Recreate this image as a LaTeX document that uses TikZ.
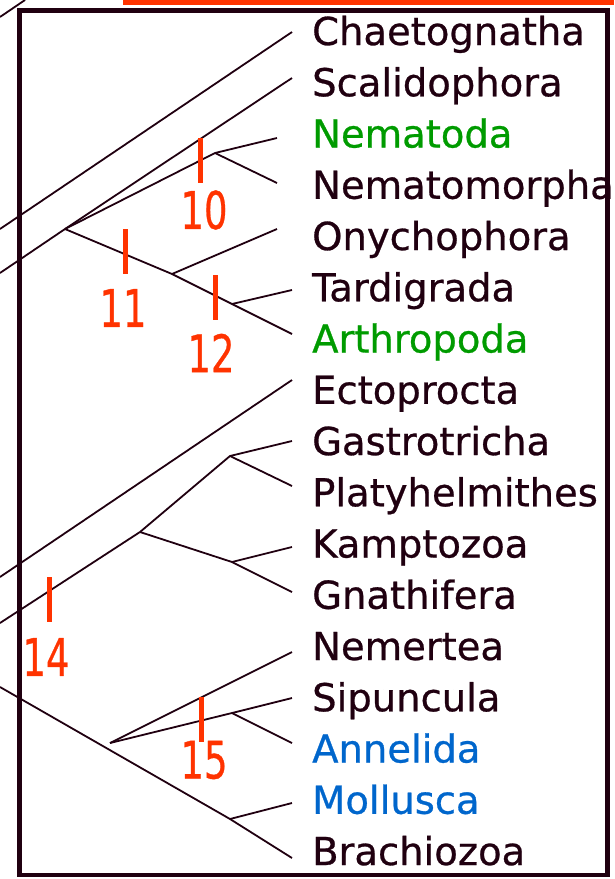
\documentclass[tikz,border=0pt]{standalone}
\usepackage{fontspec}
\setmainfont{DejaVu Sans}
\newfontfamily\taxfont{DejaVu Sans}[FakeBold=0.7]
\usetikzlibrary{positioning}
\definecolor{ink}{RGB}{32,0,16}
\definecolor{marker}{RGB}{255,51,0}
\definecolor{ecdgreen}{RGB}{0,155,0}
\definecolor{lophblue}{RGB}{0,102,204}

\begin{document}
\begin{tikzpicture}[x=1pt,y=-1pt,
  branch/.style={ink,line width=1.8pt},
  taxon/.style={anchor=base west,inner sep=0pt,font=\taxfont\fontsize{38.5}{40}\selectfont},
  apo/.style={marker,line width=5pt},
  apolabel/.style={marker,inner sep=0pt,font=\taxfont\fontsize{37}{40}\selectfont}]
\useasboundingbox (0,0) rectangle (614,879);
% red bar on top
\fill[marker] (123,0) rectangle (614,5);
% taxa
\foreach \i/\name/\col in {0/Chaetognatha/ink, 1/Scalidophora/ink, 2/Nematoda/ecdgreen,
                          3/Nematomorpha/ink, 4/Onychophora/ink, 5/Tardigrada/ink,
                          6/Arthropoda/ecdgreen, 7/Ectoprocta/ink, 8/Gastrotricha/ink,
                          9/Platyhelmithes/ink, 10/Kamptozoa/ink, 11/Gnathifera/ink,
                          12/Nemertea/ink, 13/Sipuncula/ink, 14/Annelida/lophblue,
                          15/Mollusca/lophblue, 16/Brachiozoa/ink}
  \node[taxon,text=\col] (t\i) at (312,{45+51.25*\i}) {\name};
% branch tips
\foreach \n/\x/\y in {0/292/32, 1/292/78, 2/277/138, 3/277/183, 4/277/229, 5/292/290,
                      6/292/334, 7/292/380, 8/292/441, 9/292/486, 10/292/547,
                      11/292/592, 12/292/652, 13/292/698, 14/292/743, 15/292/803,
                      16/292/858}
  \coordinate (e\n) at (\x,\y);
% roots cut by the left edge
\coordinate (r0) at (0,17);  \coordinate (r0b) at (25,0);
\coordinate (r1) at (0,229); \coordinate (r2) at (0,273);
\coordinate (r3) at (0,577); \coordinate (r4) at (0,623);
\coordinate (r5) at (0,687);
% inner nodes
\coordinate (ecdy) at (65,229);
\coordinate (nema) at (215,153);
\coordinate (pana) at (172,274);
\coordinate (tact) at (232,304);
\coordinate (plat) at (140,532);
\coordinate (rouph) at (230,456);
\coordinate (gnat) at (232,562);
\coordinate (troch) at (110,743);
\coordinate (anne) at (232,713);
\coordinate (moll) at (230,819);
% tree
\draw[branch] (r0) -- (r0b);
\draw[branch] (r1) -- (e0);
\draw[branch] (r2) -- (ecdy) -- (e1);
\draw[branch] (ecdy) -- (nema) -- (e2);
\draw[branch] (nema) -- (e3);
\draw[branch] (ecdy) -- (pana) -- (tact) -- (e6);
\draw[branch] (pana) -- (e4);
\draw[branch] (tact) -- (e5);
\draw[branch] (r3) -- (e7);
\draw[branch] (r4) -- (plat) -- (rouph) -- (e8);
\draw[branch] (rouph) -- (e9);
\draw[branch] (plat) -- (gnat) -- (e10);
\draw[branch] (gnat) -- (e11);
\draw[branch] (troch) -- (e12);
\draw[branch] (troch) -- (anne) -- (e13);
\draw[branch] (anne) -- (e14);
\draw[branch] (r5) -- (moll) -- (e16);
\draw[branch] (moll) -- (e15);
% apomorphies
\foreach \k/\x/\y/\lx/\ly in {10/200/138/204/210, 11/125/229/123/308, 12/215/275/211/353,
                              14/49/577/46/657, 15/201/697/204/760}
{
  \coordinate (a\k) at (\x,\y);
  \coordinate (b\k) at (\x,\y+45);
  \draw[apo] (a\k) -- (b\k);
  \node[apolabel] (l\k) at (\lx,\ly) {\scalebox{1}[1.4]{\k}};
}
% frame
\draw[ink,line width=4.5pt] (19.5,10.5) rectangle (607.5,875);
\end{tikzpicture}
\end{document}
